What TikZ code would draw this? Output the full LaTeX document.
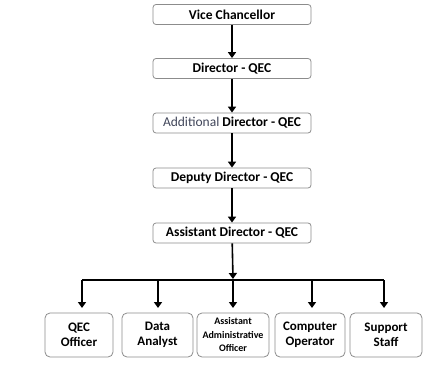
\documentclass[tikz,border=0pt]{standalone}
\usepackage{fontspec}
\setmainfont{Carlito}
\usetikzlibrary{arrows.meta}
\begin{document}
\begin{tikzpicture}[x=1pt,y=-1pt,
  topbox/.style={draw=black!45,line width=0.8pt,rounded corners=3pt,minimum width=158pt,minimum height=20pt,inner sep=0pt,font=\fontsize{13.5}{14}\selectfont\bfseries},
  botbox/.style={draw=black!45,line width=0.8pt,rounded corners=5pt,minimum height=44pt,inner sep=0pt,align=center,font=\fontsize{13}{15}\selectfont\bfseries},
  arr/.style={line width=1.6pt,-{Triangle[length=6pt,width=8pt]}},
  ln/.style={line width=1.6pt}]
\useasboundingbox (0,0) rectangle (436,369);
\node[topbox] (vc) at (232,14.5) {Vice Chancellor};
\node[topbox] (dir) at (232,68.5) {Director - QEC};
\node[topbox] (add) at (232,123) {{\mdseries\color[rgb]{0.25,0.27,0.35}Additional} Director - QEC};
\node[topbox] (dep) at (232,178) {Deputy Director - QEC};
\node[topbox] (ast) at (232,233) {Assistant Director - QEC};
\node[botbox,minimum width=68pt] (qec) at (79,335) {QEC\\Officer};
\node[botbox,minimum width=71pt] (da) at (157.5,335) {Data\\Analyst};
\node[botbox,minimum width=72pt,font=\fontsize{10}{13.5}\selectfont\bfseries] (aao) at (233,335) {Assistant\\Administrative\\Officer};
\node[botbox,minimum width=70pt] (co) at (310,335) {Computer\\Operator};
\node[botbox,minimum width=72pt] (ss) at (386,335) {Support\\Staff};
\coordinate (hl) at (82,280);
\coordinate (hr) at (384,280);
\coordinate (hm) at (233,279);
\coordinate (h1) at (158,280);
\coordinate (h2) at (233,280);
\coordinate (h3) at (312,280);
\coordinate (t0) at (82,308);
\coordinate (t1) at (158,308);
\coordinate (t2) at (233,308);
\coordinate (t3) at (312,308);
\coordinate (t4) at (384,308);
\draw[arr] (vc) -- (dir);
\draw[arr] (dir) -- (add);
\draw[arr] (add) -- (dep);
\draw[arr] (dep) -- (ast);
\draw[arr] (ast) -- (hm);
\draw[ln] (hl) -- (hr);
\draw[arr] (hl) -- (t0);
\draw[arr] (h1) -- (t1);
\draw[arr] (h2) -- (t2);
\draw[arr] (h3) -- (t3);
\draw[arr] (hr) -- (t4);
\end{tikzpicture}
\end{document}
